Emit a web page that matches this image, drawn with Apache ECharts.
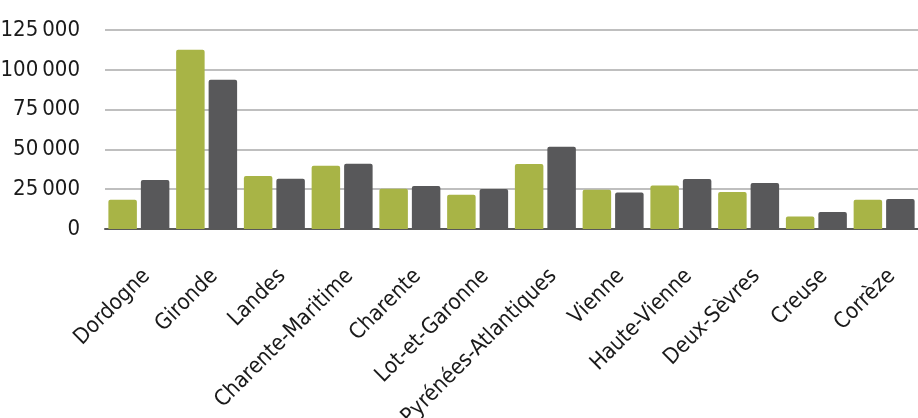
<!DOCTYPE html>
<html>
<head>
<meta charset="utf-8">
<style>
  html, body { margin: 0; padding: 0; background: #fff; }
  #chart { width: 918px; height: 418px; }
</style>
<script src="https://cdn.jsdelivr.net/npm/echarts@6/dist/echarts.min.js"></script>
</head>
<body>
<div id="chart"></div>
<script>
const categories = ['Dordogne', 'Gironde', 'Landes', 'Charente-Maritime', 'Charente', 'Lot-et-Garonne',
  'Pyrénées-Atlantiques', 'Vienne', 'Haute-Vienne', 'Deux-Sèvres', 'Creuse', 'Corrèze']
const greenValues = [18400, 112600, 33300, 39800, 25300, 21500, 40800, 24700, 27400, 23200, 7900, 18400]
const greyValues = [30800, 93800, 31600, 41000, 27000, 25100, 51700, 23000, 31400, 28900, 10700, 18800]
const yTicks = [0, 25000, 50000, 75000, 100000, 125000]

const font = '"DejaVu Sans Condensed", "Liberation Sans Narrow", sans-serif'

const chart = echarts.init(document.getElementById('chart'))
chart.setOption({
  animation: false,
  grid: { left: 105, right: 0, top: 30, bottom: 189, containLabel: false, outerBoundsMode: 'none' },
  xAxis: {
    type: 'category',
    data: categories,
    axisLine: { lineStyle: { color: '#595959', width: 2 } },
    axisTick: { show: false },
    axisLabel: {
      rotate: 45,
      interval: 0,
      margin: 36,
      align: 'right',
      verticalAlign: 'top',
      fontFamily: font,
      fontSize: 22,
      color: '#1a1a1a'
    }
  },
  yAxis: {
    type: 'value',
    min: yTicks[0],
    max: yTicks[yTicks.length - 1],
    interval: 25000,
    axisLine: { show: false },
    axisTick: { show: false },
    splitLine: { lineStyle: { color: '#bfbfbf', width: 2 } },
    axisLabel: {
      margin: 25,
      fontFamily: font,
      fontSize: 22,
      color: '#1a1a1a',
      formatter: v => String(v).replace(/\B(?=(\d{3})+(?!\d))/g, '\u2009')
    }
  },
  series: [
    {
      type: 'bar',
      data: greenValues,
      barGap: '14%',
      barCategoryGap: '10%',
      itemStyle: { color: '#a8b446', borderRadius: [2, 2, 0, 0] }
    },
    {
      type: 'bar',
      data: greyValues,
      itemStyle: { color: '#58585a', borderRadius: [2, 2, 0, 0] }
    }
  ]
})
</script>
</body>
</html>
